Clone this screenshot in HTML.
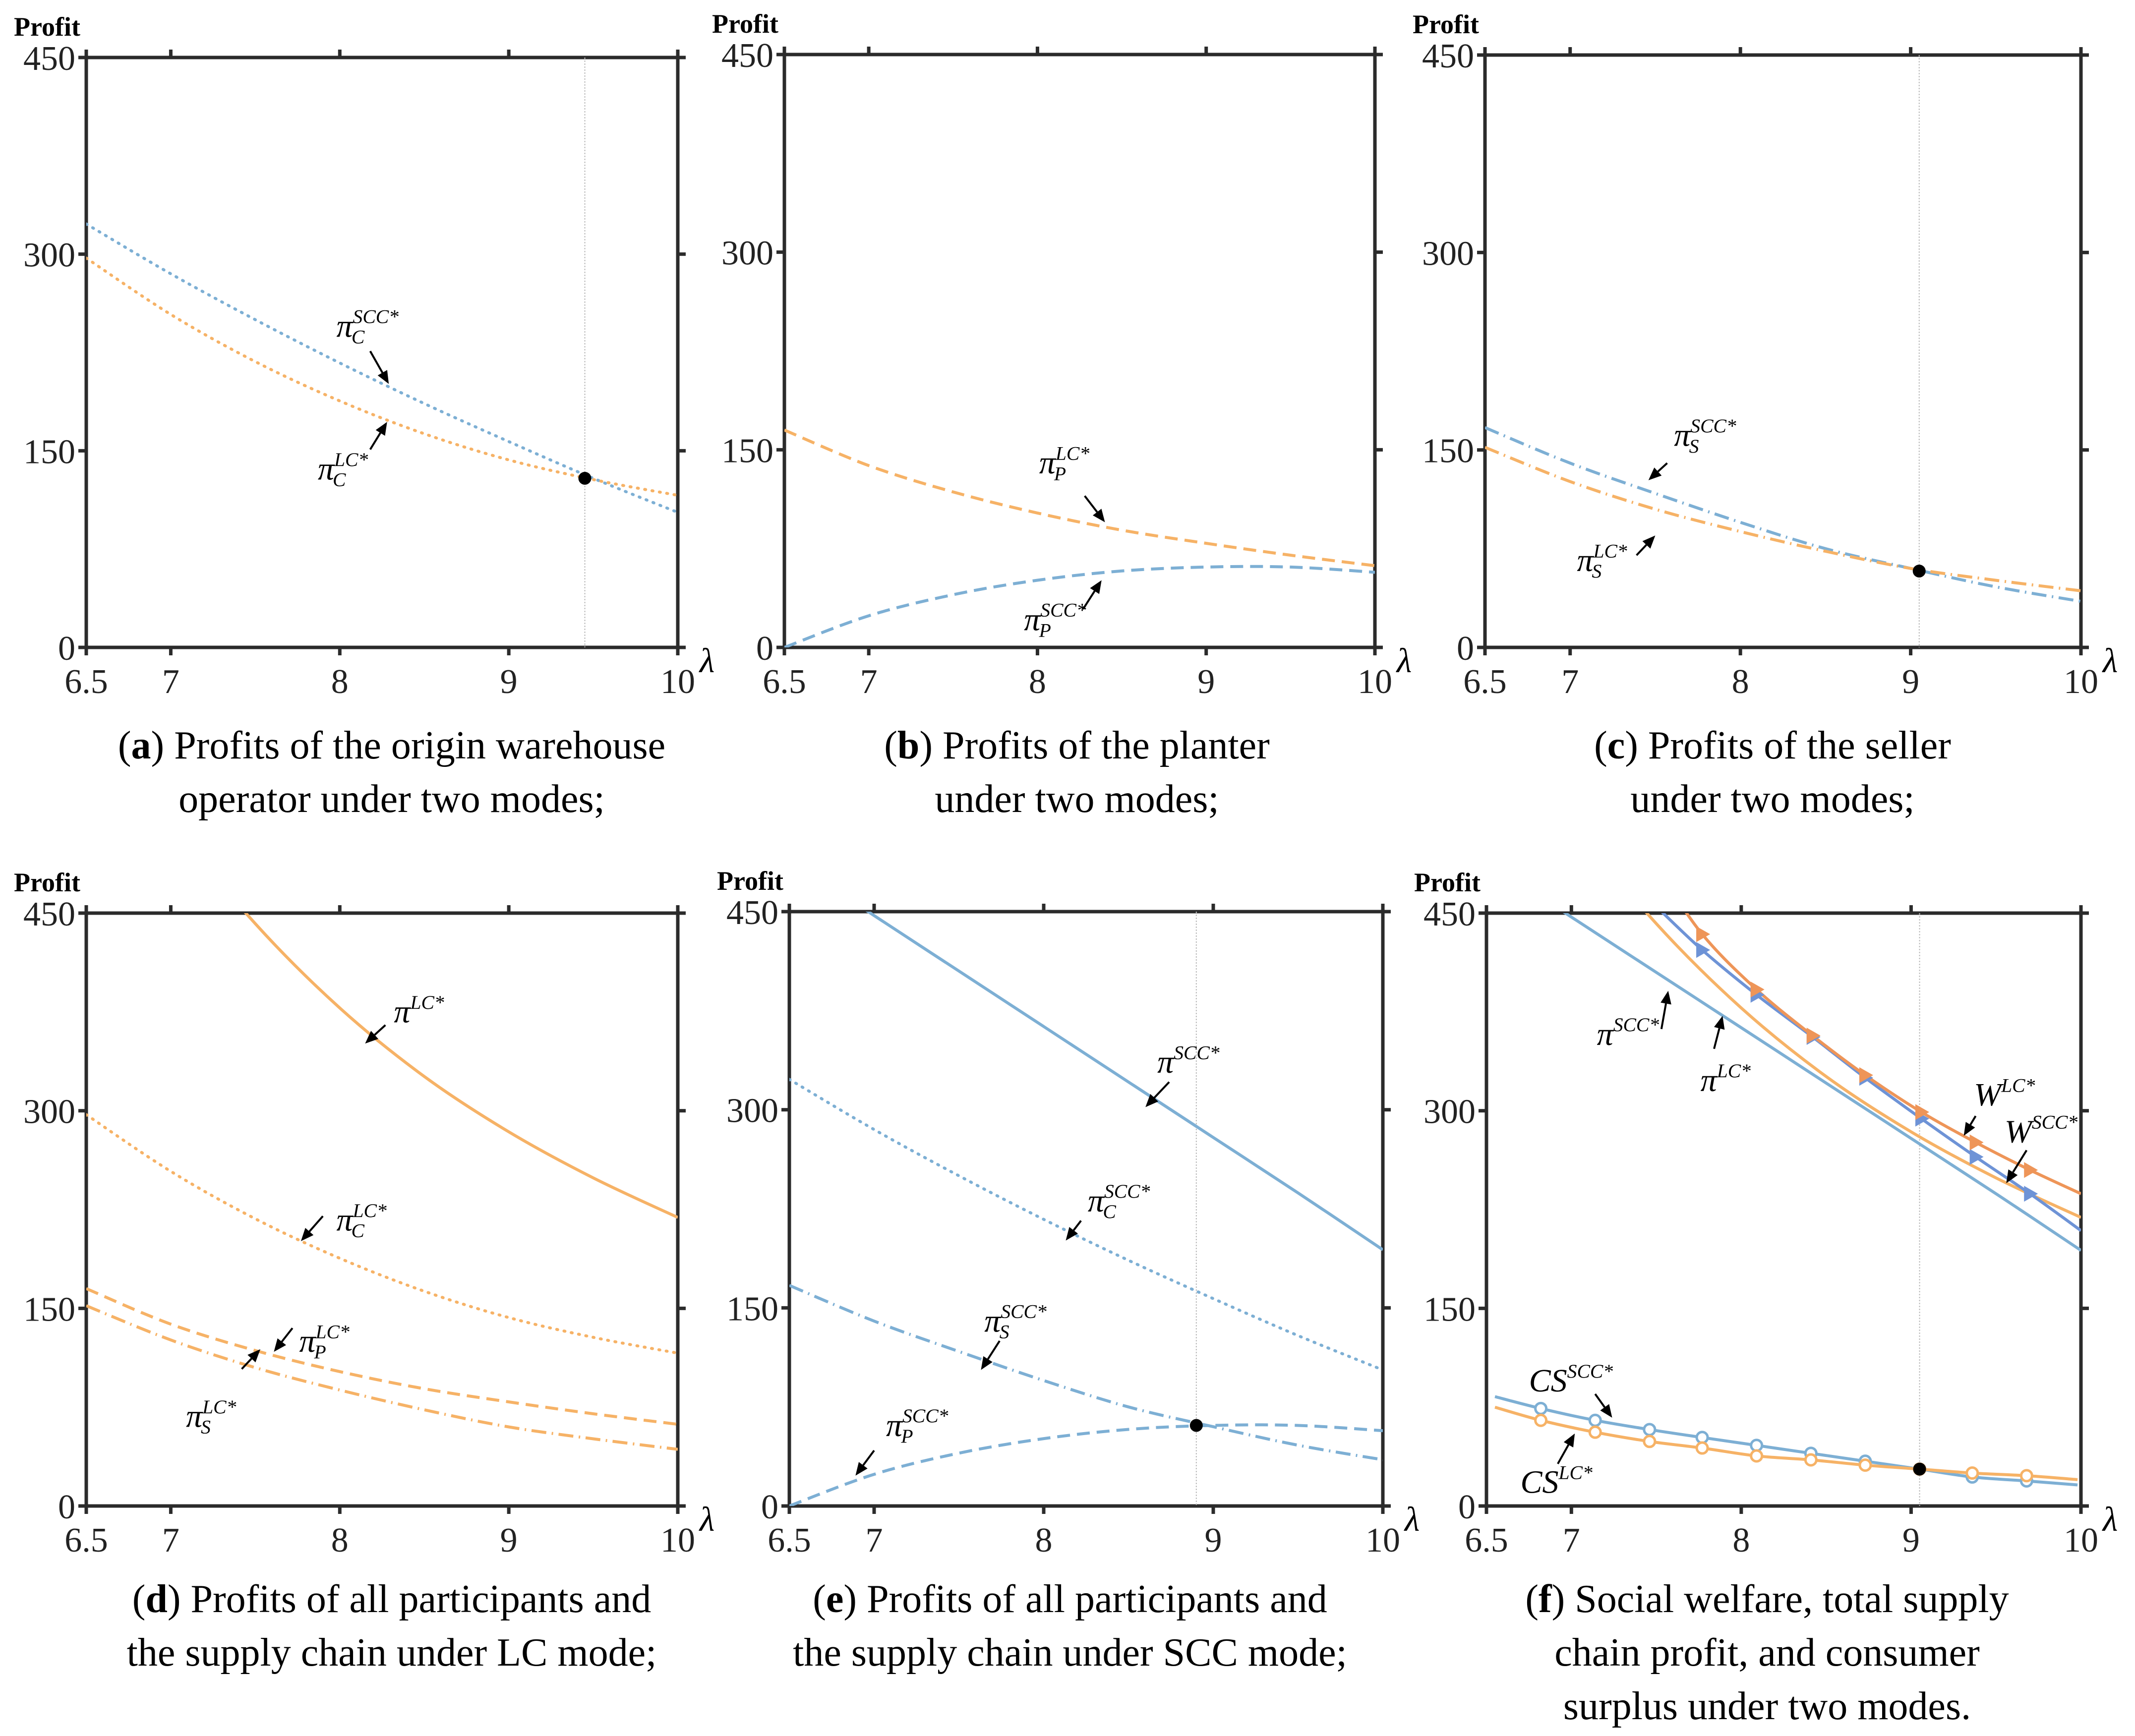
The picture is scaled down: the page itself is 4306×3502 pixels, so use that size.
<!DOCTYPE html>
<html><head><meta charset="utf-8"><style>
html,body{margin:0;padding:0;background:#fff;}
svg{display:block;}
text{font-family:"Liberation Serif",serif;}
</style></head><body>
<svg id="chart" width="4306" height="3502" viewBox="0 0 4306 3502" xmlns="http://www.w3.org/2000/svg"></svg>
<script>
// ---- data ----
const xGrid = [6.5,7,7.5,8,8.5,9,9.5,10];
const sccC = [323,285,250,217,186,157,129,103];
const lcC = [297,254,218,188,163,143,128,116];
const lcP = [165,138,118,102,89,79,70,62];
const sccP = [0,24,40,51,58,61,61,57];
const sccS = [167,140,117,95,75,60,46,35];
const lcS = [152,126,105,88,73,60,51,43];
const lcTotal = [614,520,442,378,326,284,249,219];
const sccTotal = [490,447,405,363,321,279,237,194];
const wX = [7.5,7.77,8.09,8.42,8.73,9.06,9.38,9.7,10];
const wLC = [485,434,392,357,327,299,276,255,237];
const wSCC = [455,422,388,356,325,294,265,237,209];
const csX = [6.55,6.82,7.14,7.46,7.77,8.09,8.41,8.73,9.05,9.36,9.68,9.98];
const csSCC = [83,74,65,58,52,46,40,34,28,22,19,16];
const csLC = [75,65,56,49,44,38,35,31,28,25,23,20];
const xTicks = [6.5,7,8,9,10];
const xTickLabels = ["6.5","7","8","9","10"];
const yTicks = [0,150,300,450];
const yTickLabels = ["0","150","300","450"];

const BLUE='#7DAFD4', ORANGE='#F6B266', WLCC='#EE9558', WSCCC='#6E93D6';
const DOT='2 13', DASH='26 14', DASHDOT='30 11 3 11';
const svg=document.getElementById('chart');
const NS='http://www.w3.org/2000/svg';
function mk(tag,attrs,parent){const e=document.createElementNS(NS,tag);for(const k in attrs)e.setAttribute(k,attrs[k]);(parent||svg).appendChild(e);return e;}

const panels={
 a:{x0:174,x1:1367,y0:116,y1:1306},
 b:{x0:1582,x1:2773,y0:110,y1:1306},
 c:{x0:2995,x1:4197,y0:111,y1:1306},
 d:{x0:174,x1:1367,y0:1842,y1:3038},
 e:{x0:1592,x1:2789,y0:1839,y1:3038},
 f:{x0:2998,x1:4197,y0:1842,y1:3038}};
function sx(p,v){return p.x0+(v-6.5)/3.5*(p.x1-p.x0);}
function sy(p,v){return p.y1-v/450*(p.y1-p.y0);}

function smoothPath(pts){
 let d='M'+pts[0][0].toFixed(1)+','+pts[0][1].toFixed(1);
 for(let i=0;i<pts.length-1;i++){
  const p0=pts[Math.max(0,i-1)],p1=pts[i],p2=pts[i+1],p3=pts[Math.min(pts.length-1,i+2)];
  const c1=[p1[0]+(p2[0]-p0[0])/6,p1[1]+(p2[1]-p0[1])/6];
  const c2=[p2[0]-(p3[0]-p1[0])/6,p2[1]-(p3[1]-p1[1])/6];
  d+='C'+c1[0].toFixed(1)+','+c1[1].toFixed(1)+' '+c2[0].toFixed(1)+','+c2[1].toFixed(1)+' '+p2[0].toFixed(1)+','+p2[1].toFixed(1);
 }
 return d;
}
function series(g,p,xs,ys,color,dash,name,cid){
 const pts=xs.map((x,i)=>[sx(p,x),sy(p,ys[i])]);
 const el=mk('path',{d:smoothPath(pts),fill:'none',stroke:color,'stroke-width':6,'stroke-dasharray':dash||'none','stroke-linecap':dash===DOT?'round':'butt','clip-path':'url(#'+cid+')'},g);
 
 
 return el;
}
function label(g,p,x,y,main,sup,sub,size,name){
 const t=mk('text',{x:sx(p,x),y:sy(p,y),'font-size':size,'font-style':'italic',fill:'#000'},g);
 
 
 const m=document.createElementNS(NS,'tspan');m.textContent=main;t.appendChild(m);
 if(sup){const s=document.createElementNS(NS,'tspan');s.setAttribute('dy',-size*0.42);s.setAttribute('font-size',size*0.6);s.textContent=sup;t.appendChild(s);}
 if(sub){const s=document.createElementNS(NS,'tspan');s.setAttribute('font-size',size*0.6);s.setAttribute('dy',size*0.62);s.setAttribute('dx',-(sup?sup.length*size*0.36:0));s.textContent=sub;t.appendChild(s);}
}
function arrow(g,p,xa,ya,xb,yb,name){
 const X1=sx(p,xa),Y1=sy(p,ya),X2=sx(p,xb),Y2=sy(p,yb);
 const ang=Math.atan2(Y2-Y1,X2-X1),L=26,W=11;
 const bx=X2-L*Math.cos(ang),by=Y2-L*Math.sin(ang);
 const gg=mk('g',{},g);
 
 
 mk('line',{x1:X1,y1:Y1,x2:bx,y2:by,stroke:'#000','stroke-width':4},gg);
 mk('polygon',{points:`${X2},${Y2} ${bx+W*Math.sin(ang)},${by-W*Math.cos(ang)} ${bx-W*Math.sin(ang)},${by+W*Math.cos(ang)}`,fill:'#000'},gg);
}
function vline(g,p,x){mk('line',{x1:sx(p,x),x2:sx(p,x),y1:p.y0,y2:p.y1,stroke:'#bbb','stroke-width':2,'stroke-dasharray':'3 3'},g);}
function dot(g,p,x,y,name){const c=mk('circle',{cx:sx(p,x),cy:sy(p,y),r:13,fill:'#000'},g);
 
 }

function axes(key){
 const p=panels[key];
 const g=mk('g',{});
 
 
 const cp=mk('clipPath',{id:'clip'+key},g);
 mk('rect',{x:p.x0,y:p.y0,width:p.x1-p.x0,height:p.y1-p.y0},cp);
 const ax=mk('g',{},g);
 
 
 mk('rect',{x:p.x0,y:p.y0,width:p.x1-p.x0,height:p.y1-p.y0,fill:'none',stroke:'#2b2b2b','stroke-width':7},ax);
 xTicks.forEach((v,i)=>{const X=sx(p,v);
  mk('line',{x1:X,x2:X,y1:p.y1,y2:p.y1+16,stroke:'#2b2b2b','stroke-width':7},ax);
  mk('line',{x1:X,x2:X,y1:p.y0,y2:p.y0-16,stroke:'#2b2b2b','stroke-width':7},ax);
  const t=mk('text',{x:X,y:p.y1+92,'font-size':70,'text-anchor':'middle',fill:'#222'},ax);t.textContent=xTickLabels[i];
  
  
 });
 yTicks.forEach((v,i)=>{const Y=sy(p,v);
  mk('line',{x1:p.x0-16,x2:p.x0,y1:Y,y2:Y,stroke:'#2b2b2b','stroke-width':7},ax);
  mk('line',{x1:p.x1,x2:p.x1+16,y1:Y,y2:Y,stroke:'#2b2b2b','stroke-width':7},ax);
  const t=mk('text',{x:p.x0-22,y:Y+25,'font-size':70,'text-anchor':'end',fill:'#222'},ax);t.textContent=yTickLabels[i];
  
  
 });
 const pt=mk('text',{x:p.x0-146,y:p.y0-44,'font-size':54,'font-weight':'bold',fill:'#000'},g);pt.textContent='Profit';
 
 
 const lt=mk('text',{x:p.x1+44,y:p.y1+50,'font-size':70,'font-style':'italic',fill:'#000'},g);lt.textContent='λ';
 
 
 return [g,p,'clip'+key];
}
function caption(cx,y0,lines){
 const g=mk('g',{});
 
 
 lines.forEach((ln,i)=>{const t=mk('text',{x:cx,y:y0+i*108,'font-size':80,'text-anchor':'middle',fill:'#000'},g);
  if(i===0){const a=document.createElementNS(NS,'tspan');a.textContent='(';t.appendChild(a);
   const b=document.createElementNS(NS,'tspan');b.setAttribute('font-weight','bold');b.textContent=ln[0];t.appendChild(b);
   const c=document.createElementNS(NS,'tspan');c.textContent=')'+ln[1];t.appendChild(c);}
  else t.textContent=ln;});
}

// Panel a
{const [g,p,c]=axes('a');vline(g,p,9.45);
 series(g,p,xGrid,sccC,BLUE,DOT,'line-scc-c',c);series(g,p,xGrid,lcC,ORANGE,DOT,'line-lc-c',c);
 dot(g,p,9.45,129,'intersection-point');
 label(g,p,7.98,237,'π','SCC*','C',66,'label-pi-c-scc');arrow(g,p,8.18,226,8.29,201,'arrow-pi-c-scc');
 label(g,p,7.87,128,'π','LC*','C',66,'label-pi-c-lc');arrow(g,p,8.18,151,8.28,172,'arrow-pi-c-lc');}
// Panel b
{const [g,p,c]=axes('b');
 series(g,p,xGrid,lcP,ORANGE,DASH,'line-lc-p',c);series(g,p,xGrid,sccP,BLUE,DASH,'line-scc-p',c);
 label(g,p,8.01,132,'π','LC*','P',66,'label-pi-p-lc');arrow(g,p,8.28,115,8.4,95,'arrow-pi-p-lc');
 label(g,p,7.92,13,'π','SCC*','P',66,'label-pi-p-scc');arrow(g,p,8.27,29,8.38,51,'arrow-pi-p-scc');}
// Panel c
{const [g,p,c]=axes('c');vline(g,p,9.05);
 series(g,p,xGrid,sccS,BLUE,DASHDOT,'line-scc-s',c);series(g,p,xGrid,lcS,ORANGE,DASHDOT,'line-lc-s',c);
 dot(g,p,9.05,58,'intersection-point');
 label(g,p,7.61,153,'π','SCC*','S',66,'label-pi-s-scc');arrow(g,p,7.57,140,7.46,127,'arrow-pi-s-scc');
 label(g,p,7.04,58,'π','LC*','S',66,'label-pi-s-lc');arrow(g,p,7.39,70,7.5,85,'arrow-pi-s-lc');}
// Panel d
{const [g,p,c]=axes('d');
 series(g,p,xGrid,lcTotal,ORANGE,null,'line-lc-total',c);series(g,p,xGrid,lcC,ORANGE,DOT,'line-lc-c',c);
 series(g,p,xGrid,lcP,ORANGE,DASH,'line-lc-p',c);series(g,p,xGrid,lcS,ORANGE,DASHDOT,'line-lc-s',c);
 label(g,p,8.32,367,'π','LC*',null,66,'label-pi-lc');arrow(g,p,8.27,365,8.15,351,'arrow-pi-lc');
 label(g,p,7.98,209,'π','LC*','C',66,'label-pi-c-lc');arrow(g,p,7.9,220,7.77,201,'arrow-pi-c-lc');
 label(g,p,7.76,117,'π','LC*','P',66,'label-pi-p-lc');arrow(g,p,7.72,135,7.61,117,'arrow-pi-p-lc');
 label(g,p,7.09,60,'π','LC*','S',66,'label-pi-s-lc');arrow(g,p,7.42,104,7.53,119,'arrow-pi-s-lc');}
// Panel e
{const [g,p,c]=axes('e');vline(g,p,8.9);
 series(g,p,xGrid,sccTotal,BLUE,null,'line-scc-total',c);series(g,p,xGrid,sccC,BLUE,DOT,'line-scc-c',c);
 series(g,p,xGrid,sccS,BLUE,DASHDOT,'line-scc-s',c);series(g,p,xGrid,sccP,BLUE,DASH,'line-scc-p',c);
 dot(g,p,8.9,61,'intersection-point');
 label(g,p,8.67,328,'π','SCC*',null,66,'label-pi-scc');arrow(g,p,8.74,321,8.6,302,'arrow-pi-scc');
 label(g,p,8.26,223,'π','SCC*','C',66,'label-pi-c-scc');arrow(g,p,8.22,216,8.13,201,'arrow-pi-c-scc');
 label(g,p,7.65,132,'π','SCC*','S',66,'label-pi-s-scc');arrow(g,p,7.74,125,7.63,103,'arrow-pi-s-scc');
 label(g,p,7.07,53,'π','SCC*','P',66,'label-pi-p-scc');arrow(g,p,7.0,42,6.89,23,'arrow-pi-p-scc');}
// Panel f
{const [g,p,c]=axes('f');vline(g,p,9.05);
 series(g,p,xGrid,sccTotal,BLUE,null,'line-scc-total',c);series(g,p,xGrid,lcTotal,ORANGE,null,'line-lc-total',c);
 series(g,p,wX,wSCC,WSCCC,null,'line-w-scc',c);series(g,p,wX,wLC,WLCC,null,'line-w-lc',c);
 for(let i=1;i<wX.length-1;i++){
  [[wSCC,WSCCC,'marker-w-scc'],[wLC,WLCC,'marker-w-lc']].forEach(([arr,col,nm])=>{
   const X=sx(p,wX[i]),Y=sy(p,arr[i]);
   const m=mk('polygon',{points:`${X+16},${Y} ${X-12},${Y-16} ${X-12},${Y+16}`,fill:col},g);
   
   
  });
 }
 series(g,p,csX,csSCC,BLUE,null,'line-cs-scc',c);series(g,p,csX,csLC,ORANGE,null,'line-cs-lc',c);
 for(let i=1;i<csX.length-1;i++){
  [[csSCC,BLUE,'marker-cs-scc'],[csLC,ORANGE,'marker-cs-lc']].forEach(([arr,col,nm])=>{
   const m=mk('circle',{cx:sx(p,csX[i]),cy:sy(p,arr[i]),r:11,fill:'#fff',stroke:col,'stroke-width':5},g);
   
   
  });
 }
 dot(g,p,9.05,28,'intersection-point');
 label(g,p,7.15,350,'π','SCC*',null,66,'label-pi-scc');arrow(g,p,7.53,362,7.57,391,'arrow-pi-scc');
 label(g,p,7.76,315,'π','LC*',null,66,'label-pi-lc');arrow(g,p,7.84,347,7.89,372,'arrow-pi-lc');
 label(g,p,9.37,304,'W','LC*',null,66,'label-w-lc');arrow(g,p,9.38,296,9.31,281,'arrow-w-lc');
 label(g,p,9.55,276,'W','SCC*',null,66,'label-w-scc');arrow(g,p,9.68,270,9.56,245,'arrow-w-scc');
 label(g,p,6.75,87,'CS','SCC*',null,66,'label-cs-scc');arrow(g,p,7.14,85,7.24,67,'arrow-cs-scc');
 label(g,p,6.7,10,'CS','LC*',null,66,'label-cs-lc');arrow(g,p,6.92,32,7.02,55,'arrow-cs-lc');}

caption(790,1530,[['a',' Profits of the origin warehouse'],'operator under two modes;']);
caption(2172,1530,[['b',' Profits of the planter'],'under two modes;']);
caption(3575,1530,[['c',' Profits of the seller'],'under two modes;']);
caption(790,3252,[['d',' Profits of all participants and'],'the supply chain under LC mode;']);
caption(2158,3252,[['e',' Profits of all participants and'],'the supply chain under SCC mode;']);
caption(3564,3252,[['f',' Social welfare, total supply'],'chain profit, and consumer','surplus under two modes.']);
</script>
</body></html>
